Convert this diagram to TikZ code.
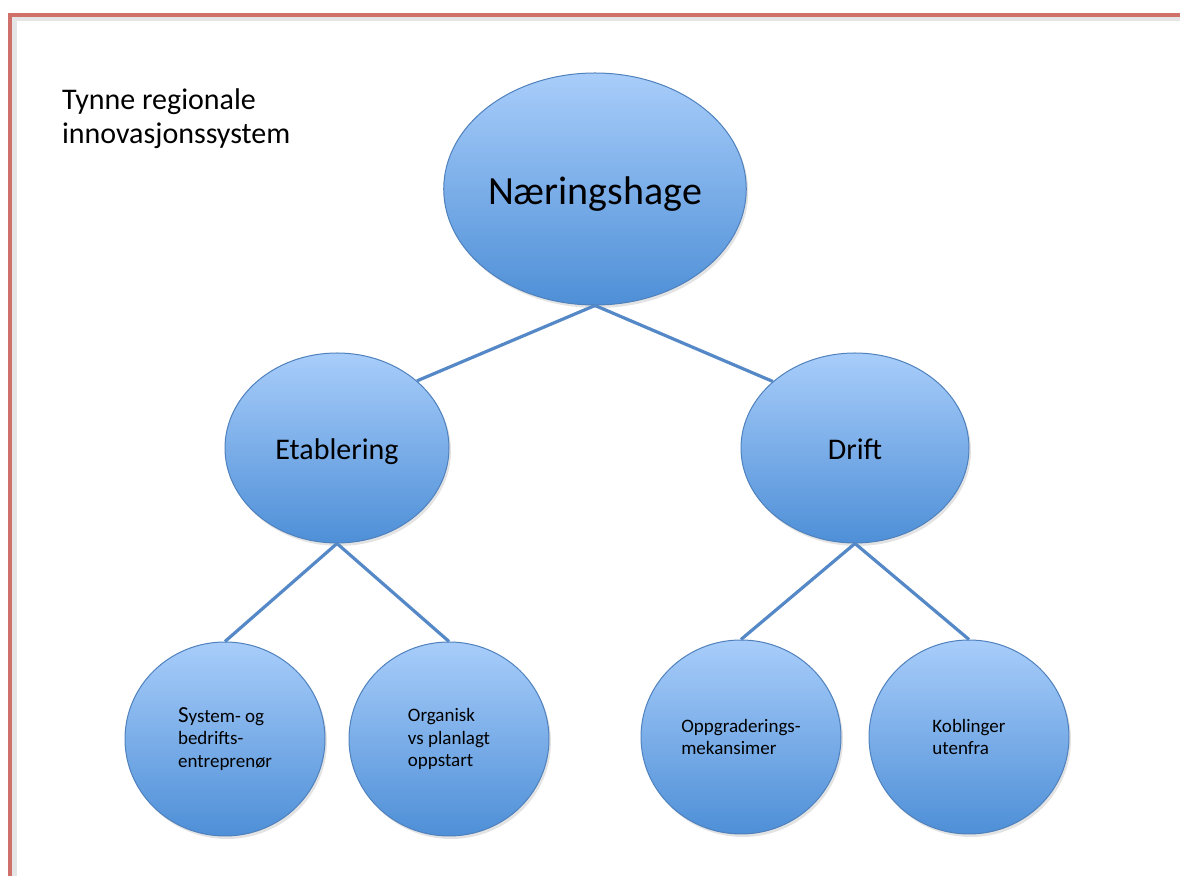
\documentclass[tikz,border=0pt]{standalone}
\usepackage{fontspec}
\setmainfont{Carlito}
\usetikzlibrary{shapes.geometric,shadows}
\definecolor{bubtop}{RGB}{168,205,250}
\definecolor{bubbot}{RGB}{78,143,215}
\definecolor{bubline}{RGB}{79,129,189}
\definecolor{linkcol}{RGB}{84,136,198}
\definecolor{frame}{RGB}{208,112,106}
\tikzset{
  bubble/.style={ellipse, draw=bubline, line width=0.5pt, inner sep=0pt,
    top color=bubtop, bottom color=bubbot,
    drop shadow={opacity=0.22, shadow xshift=1pt, shadow yshift=-1.5pt}},
  big/.style={bubble, minimum width=147pt, minimum height=116pt,
    text height=16pt, text depth=0pt, font=\fontsize{20}{24}\selectfont},
  mid/.style={bubble, minimum height=95pt,
    text height=12pt, text depth=0pt, font=\fontsize{15}{18}\selectfont},
  small/.style={bubble, minimum width=100pt, minimum height=97pt, align=left,
    font=\fontsize{9.5}{11.2}\selectfont},
  link/.style={draw=linkcol, line width=1.6pt},
}
\begin{document}
\begin{tikzpicture}[x=0.5pt, y=-0.5pt]
\useasboundingbox (0,0) rectangle (1180,876);
% frame with soft shadow
\draw[line width=2.5pt, black!10] (14,880) -- (14,19) -- (1185,19);
\draw[line width=1.8pt, frame] (10,880) -- (10,15) -- (1185,15);
% title
\node[anchor=base west, align=left, font=\fontsize{15}{17}\selectfont] (title) at (55,144)
  {Tynne regionale\\innovasjonssystem};
% nodes
\node[big] (top) at (595,189) {Næringshage};
\node[mid, minimum width=112pt] (etab) at (337,448) {Etablering};
\node[mid, minimum width=114pt] (drift) at (855,448) {Drift};
\node[small] (sys) at (225,739) {{\fontsize{11.5}{11.2}\selectfont S}ystem- og\\bedrifts-\\entreprenør};
\node[small] (org) at (449,739) {Organisk\\vs planlagt\\oppstart};
\node[small] (opp) at (741,737) {Oppgraderings-\\mekansimer};
\node[small] (kob) at (969,737) {Koblinger\\utenfra};
% connectors
\draw[link] (top.south) -- (etab.40);
\draw[link] (top.south) -- (drift.141);
\draw[link] (etab.south) -- (sys.north);
\draw[link] (etab.south) -- (org.north);
\draw[link] (drift.south) -- (opp.north);
\draw[link] (drift.south) -- (kob.north);
\end{tikzpicture}
\end{document}
